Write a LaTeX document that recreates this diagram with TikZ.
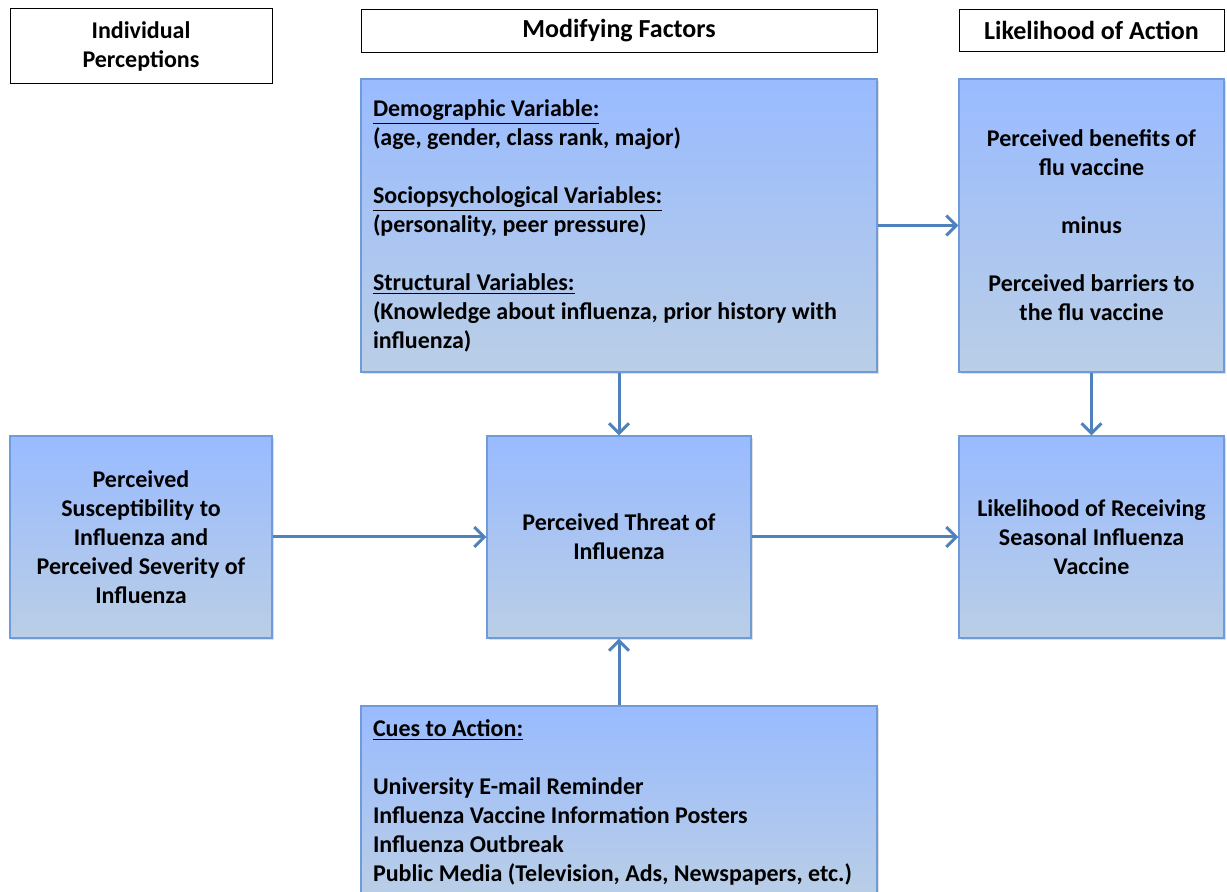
\documentclass[tikz,border=0pt]{standalone}
\usepackage{fontspec}
\setmainfont{Carlito}
\usetikzlibrary{arrows.meta,shadows}
\definecolor{boxtop}{HTML}{99BBFF}
\definecolor{boxbot}{HTML}{BACEE6}
\definecolor{boxline}{HTML}{6F9BD8}
\definecolor{arrline}{HTML}{4F81BD}
\tikzset{
  head/.style={draw=black, line width=0.5pt, fill=white, align=center, inner sep=0pt,
    font=\fontsize{12pt}{14.5pt}\selectfont\bfseries},
  factor/.style={draw=boxline, line width=0.6pt, top color=boxtop, bottom color=boxbot,
    inner sep=0pt, font=\fontsize{12pt}{14.5pt}\selectfont\bfseries,
    drop shadow={opacity=0.25, shadow xshift=1pt, shadow yshift=-1pt}},
  arr/.style={draw=arrline, line width=1.5pt, -{Straight Barb[length=5pt, width=10pt]}}
}
\begin{document}
\begin{tikzpicture}[x=0.5pt, y=-0.5pt]
			\clip (0,0) rectangle (1227,892);
			\node (indiv) [head, minimum width=131pt, minimum height=37.5pt] at (141,46.5) {Individual\\Perceptions};
			\node (modhead) [head, minimum width=258pt, minimum height=21.5pt, font=\fontsize{13pt}{15pt}\selectfont\bfseries] at (619,31) {Modifying Factors};
			\node (acthead) [head, minimum width=132.5pt, minimum height=21pt, font=\fontsize{13pt}{15pt}\selectfont\bfseries] at (1091.5,30.5) {Likelihood of Action};
			\node (modify) [factor, minimum width=258pt, minimum height=146.5pt, text width=246pt, align=flush left] at (619,225.5)
				{\underline{Demographic Variable:}\\(age, gender, class rank, major)\\[14.5pt]
				 \underline{Sociopsychological Variables:}\\(personality, peer pressure)\\[14.5pt]
				 \underline{Structural Variables:}\\(Knowledge about influenza, prior history with\\influenza)};
			\node (benefit) [factor, minimum width=132.5pt, minimum height=146.5pt, align=center] at (1091.5,225.5)
				{Perceived benefits of\\flu vaccine\\[14.5pt]minus\\[14.5pt]Perceived barriers to\\the flu vaccine};
			\node (suscept) [factor, minimum width=131pt, minimum height=101pt, align=center] at (141,537)
				{Perceived\\Susceptibility to\\Influenza and\\Perceived Severity of\\Influenza};
			\node (threat) [factor, minimum width=132pt, minimum height=101pt, align=center] at (619,537)
				{Perceived Threat of\\Influenza};
			\node (likely) [factor, minimum width=132.5pt, minimum height=101pt, align=center] at (1091.5,537)
				{Likelihood of Receiving\\Seasonal Influenza\\Vaccine};
			\node (cues) [factor, minimum width=258pt, minimum height=96pt, text width=246pt, align=flush left] at (619,802)
				{\underline{Cues to Action:}\\[14.5pt]
				 University E-mail Reminder\\Influenza Vaccine Information Posters\\Influenza Outbreak\\Public Media (Television, Ads, Newspapers, etc.)};
			\draw [arr] (modify) edge (threat);
			\draw [arr] (modify) edge (benefit);
			\draw [arr] (benefit) edge (likely);
			\draw [arr] (suscept) edge (threat);
			\draw [arr] (threat) edge (likely);
			\draw [arr] (cues) edge (threat);
		\end{tikzpicture}
\end{document}
